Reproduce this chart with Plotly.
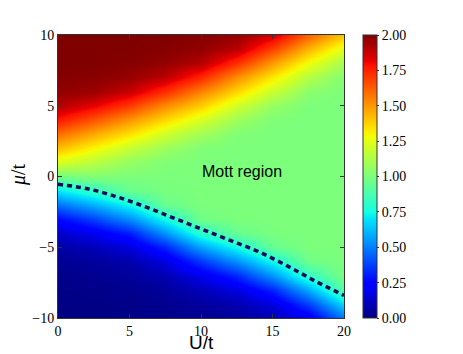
import numpy as np
import plotly.graph_objects as go

# ---- data ----
U_cols = [0, 2.5, 5, 7.5, 10, 12.5, 15, 17.5, 20]
mu_rows = list(range(-10, 11))  # -10 ... 10

# density n(U, mu); each list runs mu = -10 ... 10
n_U0 = [0.00, 0.006, 0.012, 0.02, 0.035, 0.065, 0.13, 0.26, 0.47, 0.70, 0.97,
        1.23, 1.42, 1.59, 1.77, 1.91, 1.97, 1.99, 2.00, 2.00, 2.00]
n_U2_5 = [0.005, 0.01, 0.017, 0.028, 0.05, 0.10, 0.20, 0.38, 0.59, 0.82, 1.01,
          1.15, 1.30, 1.46, 1.64, 1.82, 1.95, 1.985, 2.00, 2.00, 2.00]
n_U5 = [0.01, 0.015, 0.025, 0.045, 0.08, 0.16, 0.31, 0.53, 0.74, 0.95, 1.00,
        1.06, 1.18, 1.34, 1.50, 1.69, 1.87, 1.96, 1.99, 2.00, 2.00]
n_U7_5 = [0.017, 0.027, 0.045, 0.085, 0.165, 0.32, 0.54, 0.75, 0.95, 0.99, 1.00,
          1.01, 1.08, 1.20, 1.36, 1.52, 1.72, 1.90, 1.965, 1.99, 2.00]
n_U10 = [0.03, 0.05, 0.10, 0.185, 0.36, 0.57, 0.80, 0.97, 1.00, 1.00, 1.00,
         1.00, 1.01, 1.09, 1.22, 1.38, 1.54, 1.74, 1.91, 1.97, 1.99]
n_U12_5 = [0.045, 0.085, 0.165, 0.32, 0.54, 0.75, 0.95, 1.00, 1.00, 1.00, 1.00,
           1.00, 1.00, 1.01, 1.08, 1.20, 1.36, 1.52, 1.72, 1.90, 1.965]
n_U15 = [0.085, 0.165, 0.32, 0.54, 0.75, 0.95, 0.995, 1.00, 1.00, 1.00, 1.00,
         1.00, 1.00, 1.00, 1.005, 1.06, 1.18, 1.33, 1.49, 1.68, 1.86]
n_U17_5 = [0.19, 0.37, 0.58, 0.81, 0.97, 1.00, 1.00, 1.00, 1.00, 1.00, 1.00,
           1.00, 1.00, 1.00, 1.00, 1.00, 1.035, 1.14, 1.28, 1.44, 1.62]
n_U20 = [0.48, 0.68, 0.91, 0.995, 1.00, 1.00, 1.00, 1.00, 1.00, 1.00, 1.00,
         1.00, 1.00, 1.00, 1.00, 1.00, 1.00, 1.015, 1.10, 1.24, 1.40]

# dashed boundary of the Mott region
line_U = [0, 2, 4, 6, 8, 10, 12, 14, 16, 18, 20]
line_mu = [-0.55, -0.85, -1.4, -2.1, -2.9, -3.7, -4.5, -5.3, -6.3, -7.4, -8.4]

cbar_ticks = [0, 0.25, 0.5, 0.75, 1.0, 1.25, 1.5, 1.75, 2.0]

# ---- build figure ----
columns = [n_U0, n_U2_5, n_U5, n_U7_5, n_U10, n_U12_5, n_U15, n_U17_5, n_U20]
Z = np.array(columns).T  # rows = mu, cols = U

# matplotlib "jet" colour map
def jet_scale():
    r_pts = ([0, 0.35, 0.66, 0.89, 1], [0, 0, 1, 1, 0.5])
    g_pts = ([0, 0.125, 0.375, 0.64, 0.91, 1], [0, 0, 1, 1, 0, 0])
    b_pts = ([0, 0.11, 0.34, 0.65, 1], [0.5, 1, 1, 0, 0])
    stops = sorted(set(r_pts[0] + g_pts[0] + b_pts[0]))
    out = []
    for s in stops:
        r = np.interp(s, *r_pts); g = np.interp(s, *g_pts); b = np.interp(s, *b_pts)
        out.append([s, f"rgb({int(round(r*255))},{int(round(g*255))},{int(round(b*255))})"])
    return out

# the page body has an 8px default margin; compensate so the plot lands where intended
OFF = 8
W, H = 463, 354
PL, PR, PT, PB = 58, 344, 35, 318  # target plot-area pixel edges in the window
PW, PH = PR - PL, PB - PT

fig = go.Figure()
fig.add_trace(go.Heatmap(
    x=U_cols, y=mu_rows, z=Z, zmin=0, zmax=2, zsmooth="best",
    colorscale=jet_scale(),
    colorbar=dict(
        x=(363 - PL) / PW, xanchor="left", xpad=0,
        y=0.5, yanchor="middle", len=1.0, lenmode="fraction", ypad=0,
        thickness=14, outlinecolor="#333333", outlinewidth=1,
        tickvals=cbar_ticks, tickformat=".2f",
        ticks="outside", ticklen=2, tickcolor="#333333",
        tickfont=dict(family="Liberation Serif", size=14, color="black"),
    ),
    hoverinfo="skip",
))
fig.add_trace(go.Scatter(
    x=line_U, y=line_mu, mode="lines",
    line=dict(color="#0b0b5e", width=3.5, dash="5px,4px", shape="spline"),
    hoverinfo="skip", showlegend=False,
))

axis_common = dict(
    showgrid=False, zeroline=False, showline=True, mirror="ticks",
    linecolor="#333333", linewidth=1, ticks="inside", ticklen=4,
    tickcolor="#333333",
    tickfont=dict(family="Liberation Serif", size=14, color="black"),
)
fig.update_xaxes(range=[0, 20], tickvals=[0, 5, 10, 15, 20], **axis_common)
fig.update_yaxes(range=[-10, 10], tickvals=[-10, -5, 0, 5, 10], **axis_common)

fig.add_annotation(x=12.85, y=0.35, xref="x", yref="y", text="Mott region",
                   showarrow=False, font=dict(family="Liberation Sans", size=16, color="black"))
fig.add_annotation(x=0.5, y=(PB - 354) / PH, xref="paper", yref="paper", text="U/t",
                   showarrow=False, yanchor="bottom", borderpad=0,
                   font=dict(family="Liberation Sans", size=19, color="black"))
fig.add_annotation(x=(18 - PL) / PW, y=(PB - 175) / PH, xref="paper", yref="paper",
                   text="<i>μ</i>/t", textangle=-90, showarrow=False,
                   xanchor="center", yanchor="middle",
                   font=dict(family="Liberation Serif", size=20, color="black"))

fig.update_layout(
    width=W - OFF, height=H - OFF,
    margin=dict(l=PL - OFF, r=W - PR, t=PT - OFF, b=H - PB, autoexpand=False),
    paper_bgcolor="white", plot_bgcolor="white",
    showlegend=False,
)
fig.write_html("out.html")
